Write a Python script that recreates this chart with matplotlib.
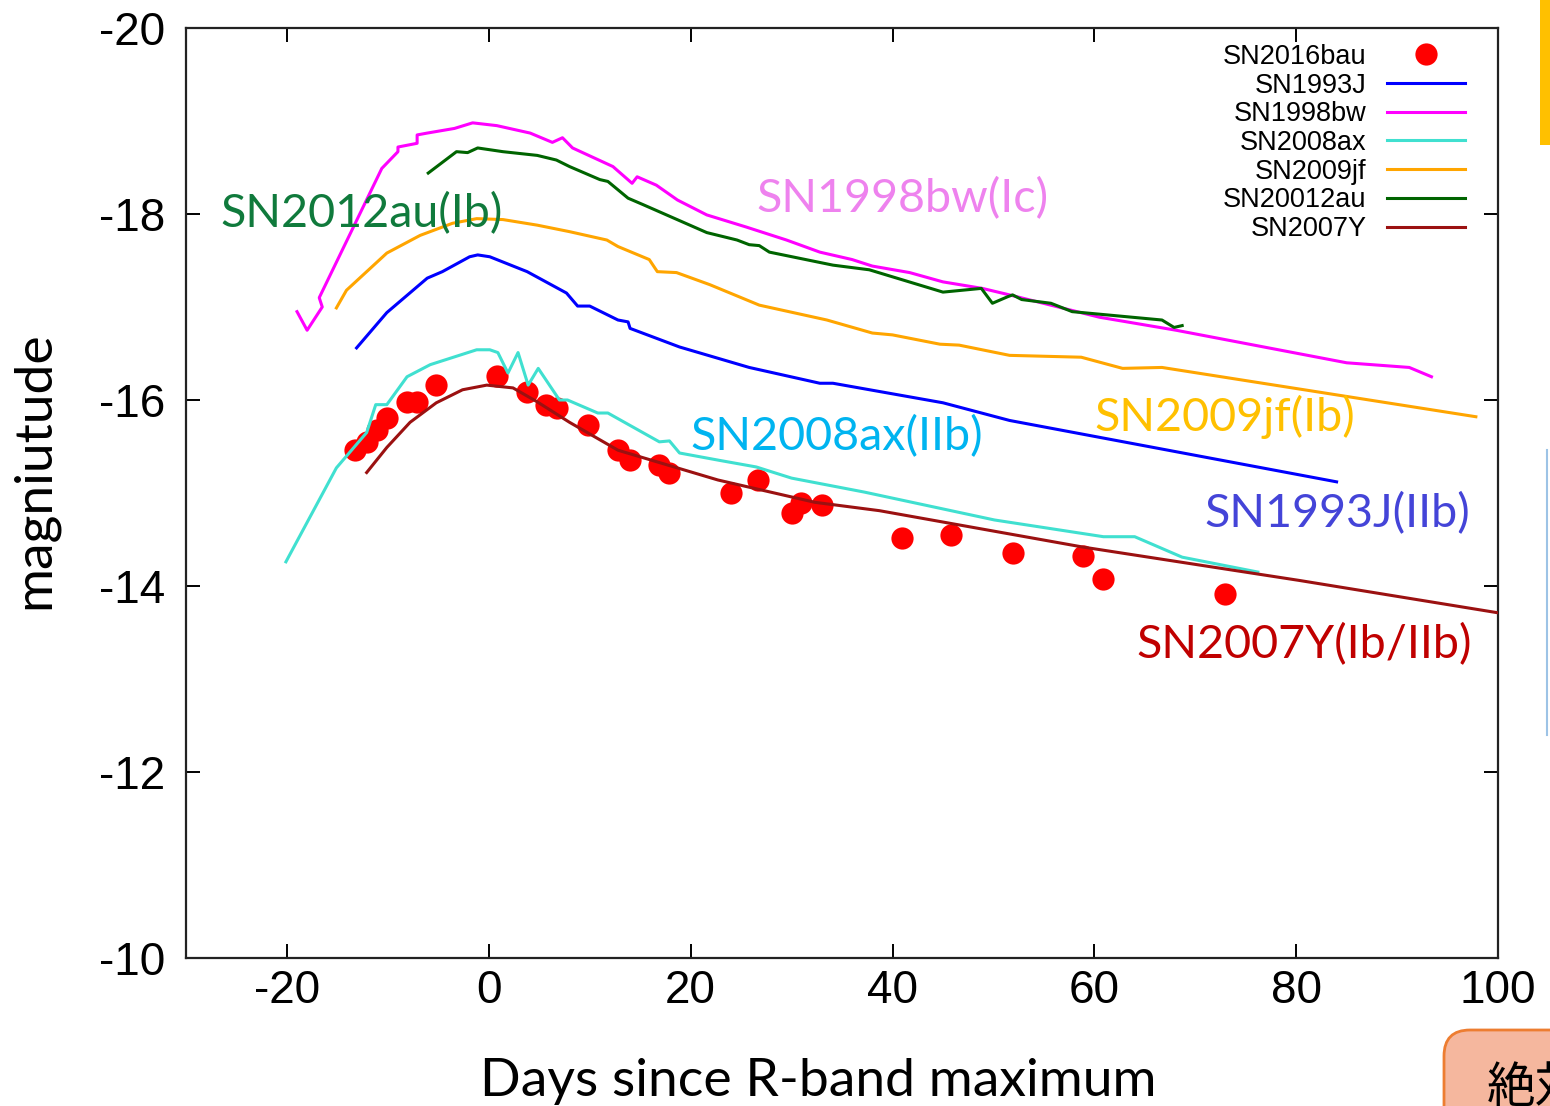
import matplotlib
matplotlib.use('Agg')
import matplotlib.pyplot as plt
from matplotlib.patches import Rectangle, FancyBboxPatch
from matplotlib.lines import Line2D
from matplotlib.transforms import IdentityTransform

# light curve data (days since R max, absolute magnitude)
bau_days = [-13.3, -12.1, -11.1, -10.1, -8.1, -7.1, -5.2, 0.8, 3.8, 5.7, 6.8,
            9.8, 12.8, 14.0, 16.9, 17.9, 24.0, 26.7, 30.0, 30.9, 33.0, 40.9,
            45.8, 51.9, 58.9, 60.9, 72.9]
bau_mag = [-15.46, -15.55, -15.68, -15.81, -15.98, -15.98, -16.16, -16.26,
           -16.09, -15.95, -15.91, -15.73, -15.46, -15.35, -15.30, -15.22,
           -15.00, -15.14, -14.78, -14.89, -14.87, -14.52, -14.55, -14.35,
           -14.32, -14.08, -13.91]

sn1993j_days = [-13.1, -10.1, -6.1, -4.6, -1.9, -1.1, 0.1, 3.8, 7.7, 8.8, 10.0,
                12.8, 13.8, 14.0, 18.9, 25.8, 32.8, 34.1, 45.0, 51.6, 84.0]
sn1993j_mag = [-16.56, -16.94, -17.31, -17.38, -17.54, -17.56, -17.54, -17.38,
               -17.15, -17.01, -17.01, -16.86, -16.84, -16.77, -16.57, -16.35,
               -16.18, -16.18, -15.97, -15.78, -15.12]

sn1998bw_days = [-19.0, -18.0, -16.5, -16.8, -10.6, -9.0, -9.0, -7.1, -7.1,
                 -6.1, -3.4, -1.6, 0.8, 4.1, 6.3, 7.3, 8.3, 12.3, 14.2, 14.7,
                 16.6, 18.7, 21.6, 25.5, 29.5, 32.8, 36.0, 38.0, 41.7, 45.0,
                 48.9, 51.6, 60.5, 68.1, 85.0, 91.2, 93.4]
sn1998bw_mag = [-16.95, -16.75, -17.00, -17.10, -18.49, -18.67, -18.72, -18.76,
                -18.85, -18.87, -18.92, -18.98, -18.95, -18.87, -18.77, -18.82,
                -18.71, -18.51, -18.33, -18.40, -18.31, -18.15, -17.99, -17.86,
                -17.72, -17.59, -17.51, -17.44, -17.37, -17.27, -17.20, -17.13,
                -16.89, -16.75, -16.40, -16.35, -16.25]

sn2008ax_days = [-20.1, -15.1, -12.1, -11.2, -10.1, -8.1, -5.8, -1.2, 0.1, 0.9,
                 1.9, 2.9, 3.9, 4.9, 7.0, 7.8, 10.8, 11.8, 16.9, 17.9, 18.9,
                 22.9, 26.5, 30.0, 37.2, 50.1, 60.9, 64.0, 68.7, 76.2]
sn2008ax_mag = [-14.26, -15.27, -15.65, -15.95, -15.95, -16.25, -16.38, -16.54,
                -16.54, -16.51, -16.29, -16.51, -16.16, -16.34, -16.00, -16.00,
                -15.86, -15.86, -15.55, -15.56, -15.43, -15.35, -15.28, -15.16,
                -15.01, -14.71, -14.53, -14.53, -14.31, -14.15]

sn2009jf_days = [-15.1, -14.1, -10.1, -6.8, -3.6, -1.2, 1.4, 4.8, 8.0, 11.7,
                 12.8, 15.9, 16.7, 18.6, 21.9, 26.8, 33.5, 38.0, 40.0, 44.7,
                 46.6, 51.6, 58.7, 62.8, 66.7, 97.8]
sn2009jf_mag = [-16.99, -17.18, -17.58, -17.77, -17.90, -17.95, -17.94, -17.88,
                -17.81, -17.72, -17.65, -17.51, -17.38, -17.37, -17.24, -17.02,
                -16.86, -16.72, -16.70, -16.60, -16.59, -16.48, -16.46, -16.34,
                -16.35, -15.82]

sn2012au_days = [-6.0, -3.2, -2.1, -1.1, 1.4, 4.8, 6.7, 8.0, 11.0, 11.8, 13.8,
                 15.3, 21.6, 24.6, 25.8, 26.8, 27.8, 34.1, 37.7, 45.0, 48.8,
                 49.9, 51.4, 51.9, 52.8, 55.7, 57.8, 66.7, 67.9, 68.7]
sn2012au_mag = [-18.44, -18.67, -18.66, -18.71, -18.67, -18.63, -18.58, -18.51,
                -18.37, -18.35, -18.17, -18.10, -17.80, -17.72, -17.67, -17.66,
                -17.59, -17.45, -17.40, -17.16, -17.20, -17.04, -17.11, -17.13,
                -17.08, -17.04, -16.95, -16.86, -16.78, -16.80]

sn2007y_days = [-12.1, -10.1, -7.8, -5.2, -2.6, -0.2, 2.4, 4.8, 8.0, 12.8,
                22.7, 32.3, 38.7, 58.8, 80.3, 100.1]
sn2007y_mag = [-15.22, -15.49, -15.76, -15.97, -16.11, -16.16, -16.13, -15.98,
               -15.76, -15.46, -15.14, -14.90, -14.81, -14.42, -14.06, -13.71]

x_ticks = [-20, 0, 20, 40, 60, 80, 100]
y_ticks = [-20, -18, -16, -14, -12, -10]

# on-plot labels: text, colour, left x, centre y
label_texts = ['SN2012au(Ib)', 'SN1998bw(Ic)', 'SN2008ax(IIb)',
               'SN2009jf(Ib)', 'SN1993J(IIb)', 'SN2007Y(Ib/IIb)']
label_colors = ['#107a3c', '#ee82ee', '#00b4f0', '#ffc000', '#4444d8', '#c00000']
label_x = [-26.6, 26.5, 20.0, 60.0, 70.9, 64.2]
label_y = [-18.0, -18.17, -15.61, -15.82, -14.78, -13.37]

plt.rcParams['axes.unicode_minus'] = False

fig = plt.figure(figsize=(15.5, 11.06), dpi=100)
ax = fig.add_axes([0.12, 0.1338, 0.8465, 0.8409])

# data points first so the curves sit on top
ax.plot(bau_days, bau_mag, 'o', color='#ff0000', markersize=16,
        markeredgewidth=0, label='SN2016bau', zorder=2)

ax.plot(sn1993j_days, sn1993j_mag, color='#0000ff', lw=2.2, label='SN1993J', zorder=3)
ax.plot(sn1998bw_days, sn1998bw_mag, color='#ff00ff', lw=2.2, label='SN1998bw', zorder=3)
ax.plot(sn2008ax_days, sn2008ax_mag, color='#40e0d0', lw=2.2, label='SN2008ax', zorder=3)
ax.plot(sn2009jf_days, sn2009jf_mag, color='#ffa500', lw=2.2, label='SN2009jf', zorder=3)
ax.plot(sn2012au_days, sn2012au_mag, color='#006400', lw=2.2, label='SN20012au', zorder=3)
ax.plot(sn2007y_days, sn2007y_mag, color='#9b1111', lw=2.2, label='SN2007Y', zorder=3)

for txt, col, lx, ly in zip(label_texts, label_colors, label_x, label_y):
    ax.text(lx, ly, txt, color=col, fontsize=33.6, family='Lato',
            ha='left', va='center')

ax.set_xlim(-30, 100)
ax.set_ylim(-10, -20)
ax.set_xticks(x_ticks)
ax.set_yticks(y_ticks)

ax.tick_params(direction='in', length=10, width=1.4, top=True, right=True,
               labelsize=33, colors='black')
ax.tick_params(axis='y', pad=15)
ax.tick_params(axis='x', pad=8)
for lab in ax.get_xticklabels() + ax.get_yticklabels():
    lab.set_family('Liberation Sans')

for sp in ax.spines.values():
    sp.set_linewidth(1.6)
    sp.set_color('#222222')

ax.set_ylabel('magniutude', fontsize=38.5, family='Lato')
ax.yaxis.set_label_coords(-0.097, 0.5247)
ax.set_xlabel('Days since R-band maximum', fontsize=38.5, family='Lato')
ax.xaxis.set_label_coords(0.4817, -0.108)
ax.xaxis.label.set_va('top')

ax.legend(loc='upper right', bbox_to_anchor=(0.975, 0.983), frameon=False,
          markerfirst=False, numpoints=1, borderpad=0, borderaxespad=0,
          handlelength=2.9, handletextpad=0.75, labelspacing=0.1,
          prop={'family': 'Liberation Sans', 'size': 19.5})

# bits of the surrounding slide
fig.add_artist(Rectangle((1540 / 1550, 1 - 145 / 1106), 10 / 1550, 145 / 1106,
                         transform=fig.transFigure, color='#ffc000', lw=0))
fig.add_artist(Line2D([1547 / 1550, 1547 / 1550], [1 - 450 / 1106, 1 - 735 / 1106],
                      transform=fig.transFigure, color='#9dc3e6', lw=1.5))
fig.add_artist(FancyBboxPatch((1444, -60), 200, 136,
                              boxstyle='round,pad=0,rounding_size=26',
                              transform=IdentityTransform(),
                              facecolor='#f5b79e', edgecolor='#ed7d31', lw=2))
fig.text(1487 / 1550, 4 / 1106, '絶対', fontsize=35,
         family=['Noto Sans CJK JP', 'DejaVu Sans'], va='baseline')

plt.savefig('out.png', dpi=100)
